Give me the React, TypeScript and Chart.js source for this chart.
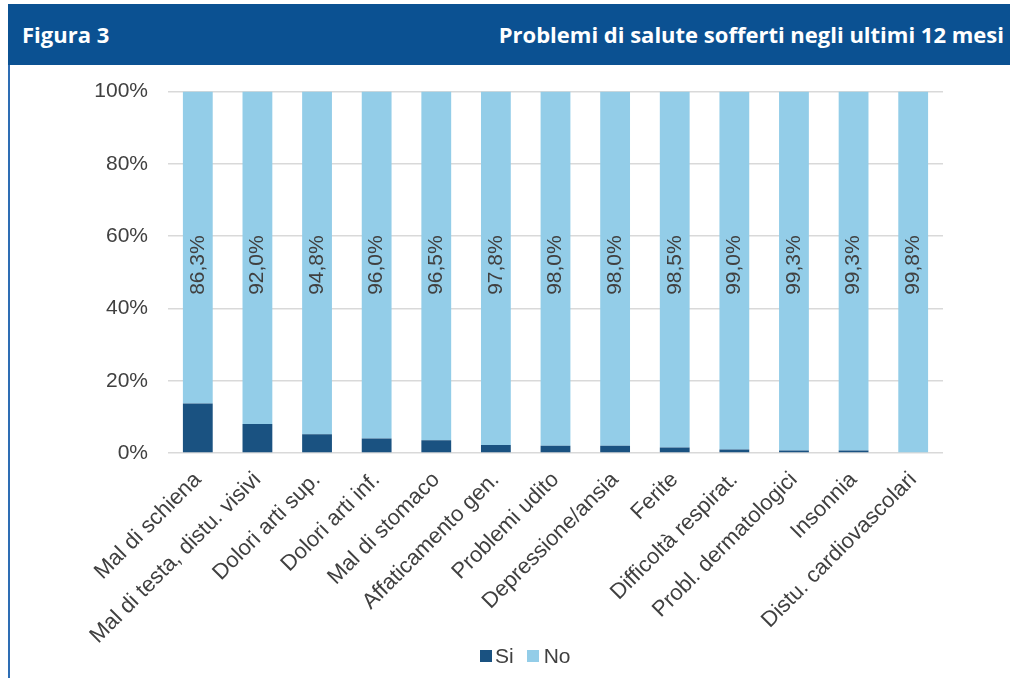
import React, { useEffect, useRef } from "react";
import { Chart, registerables } from "chart.js";

Chart.register(...registerables);

const categories = [
  "Mal di schiena",
  "Mal di testa, distu. visivi",
  "Dolori arti sup.",
  "Dolori arti inf.",
  "Mal di stomaco",
  "Affaticamento gen.",
  "Problemi udito",
  "Depressione/ansia",
  "Ferite",
  "Difficoltà respirat.",
  "Probl. dermatologici",
  "Insonnia",
  "Distu. cardiovascolari",
];
const siValues = [13.7, 8.0, 5.2, 4.0, 3.5, 2.2, 2.0, 2.0, 1.5, 1.0, 0.7, 0.7, 0.2];
const noValues = [86.3, 92.0, 94.8, 96.0, 96.5, 97.8, 98.0, 98.0, 98.5, 99.0, 99.3, 99.3, 99.8];
const yTicks = [0, 20, 40, 60, 80, 100];
const seriesNames = ["Si", "No"];
const labelValue = 52;

const SI_COLOR = "#1a5281";
const NO_COLOR = "#93cde8";
const TEXT_COLOR = "#404040";
const FONT = "'Liberation Sans', Arial, sans-serif";

const fmt = (v: number) => v.toFixed(1).replace(".", ",") + "%";

const valueLabels = {
  id: "valueLabels",
  afterDatasetsDraw(chart: any) {
    const ctx = chart.ctx;
    const meta = chart.getDatasetMeta(1);
    const y = chart.scales.y.getPixelForValue(labelValue);
    ctx.save();
    ctx.font = `21px ${FONT}`;
    ctx.fillStyle = TEXT_COLOR;
    ctx.textAlign = "center";
    ctx.textBaseline = "middle";
    meta.data.forEach((bar: any, i: number) => {
      ctx.save();
      ctx.translate(bar.x, y);
      ctx.rotate(-Math.PI / 2);
      ctx.fillText(fmt(noValues[i]), 0, 0);
      ctx.restore();
    });
    ctx.restore();
  },
};

// canvas spans page y 59..678 (height 619); plot bottom at page 453 -> canvas 394
export default function App() {
  const ref = useRef<HTMLCanvasElement>(null);
  useEffect(() => {
    if (!ref.current) return;
    const chart = new Chart(ref.current, {
      type: "bar",
      data: {
        labels: categories,
        datasets: [
          { label: seriesNames[0], data: siValues, backgroundColor: SI_COLOR },
          { label: seriesNames[1], data: noValues, backgroundColor: NO_COLOR },
        ],
      },
      options: {
        responsive: false,
        animation: false,
        devicePixelRatio: 1,
        datasets: { bar: { barPercentage: 0.5, categoryPercentage: 1 } },
        layout: { padding: { left: 0, right: 67, top: 10, bottom: 0 } },
        plugins: { legend: { display: false }, tooltip: { enabled: false } },
        scales: {
          x: {
            stacked: true,
            grid: { display: false },
            border: { display: false },
            ticks: {
              autoSkip: false,
              minRotation: 45,
              maxRotation: 45,
              padding: 6,
              color: TEXT_COLOR,
              font: { family: FONT, size: 22 },
            },
            afterFit: (s: any) => {
              s.height = 225;
            },
          },
          y: {
            stacked: true,
            min: 0,
            max: 100,
            afterBuildTicks: (s: any) => {
              s.ticks = yTicks.map((v) => ({ value: v }));
            },
            grid: { color: "#d9d9d9", lineWidth: 1.5, drawTicks: false },
            border: { display: false },
            ticks: {
              padding: 20,
              color: TEXT_COLOR,
              font: { family: FONT, size: 21 },
              callback: (v: any) => v + "%",
            },
            afterFit: (s: any) => {
              s.width = 156;
            },
          },
        },
      },
      plugins: [valueLabels],
    });
    return () => chart.destroy();
  }, []);

  return (
    <div style={{ position: "absolute", left: 0, top: 0, width: 1010, height: 678, overflow: "hidden", background: "#fff" }}>
      <div
        style={{
          position: "absolute",
          left: 8,
          top: 4,
          width: 1002,
          height: 61,
          background: "#0b5192",
          color: "#fff",
          fontFamily: "'Open Sans', sans-serif",
          fontWeight: 700,
          fontSize: 22,
          lineHeight: "61px",
        }}
      >
        <span style={{ position: "absolute", left: 14, top: 0 }}>Figura 3</span>
        <span style={{ position: "absolute", right: 6, top: 0 }}>Problemi di salute sofferti negli ultimi 12 mesi</span>
      </div>
      <div style={{ position: "absolute", left: 8, top: 65, width: 2, height: 613, background: "#2e6db4" }} />
      <canvas ref={ref} width={998} height={619} style={{ position: "absolute", left: 12, top: 59 }} />
      <div
        style={{
          position: "absolute",
          left: 480,
          top: 643,
          height: 26,
          display: "flex",
          alignItems: "center",
          fontFamily: FONT,
          fontSize: 21,
          color: TEXT_COLOR,
        }}
      >
        <span style={{ width: 12, height: 12, background: SI_COLOR, display: "inline-block", marginRight: 3 }} />
        <span style={{ marginRight: 13 }}>{seriesNames[0]}</span>
        <span style={{ width: 12, height: 12, background: NO_COLOR, display: "inline-block", marginRight: 5 }} />
        <span>{seriesNames[1]}</span>
      </div>
    </div>
  );
}
